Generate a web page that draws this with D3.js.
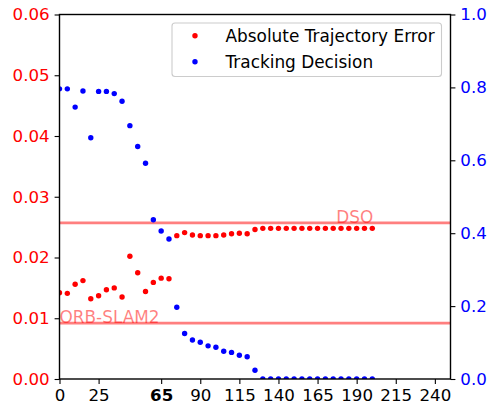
<!DOCTYPE html>
<html>
<head>
<meta charset="utf-8">
<script src="https://cdn.jsdelivr.net/npm/d3@7"></script>
<style>
  html, body { margin: 0; padding: 0; background: #fff; }
  svg { display: block; font-family: "DejaVu Sans", sans-serif; }
</style>
</head>
<body>
<svg id="chart" width="489" height="411"></svg>
<script>
// Frame indices sampled along the sequence
const frames = [0, 5, 10, 15, 20, 25, 30, 35, 40, 45, 50, 55, 60, 65, 70, 75, 80, 85, 90, 95,
  100, 105, 110, 115, 120, 125, 130, 135, 140, 145, 150, 155, 160, 165, 170, 175, 180, 185, 190, 195, 200];

// Absolute trajectory error (left axis)
const ateValues = [0.0142, 0.0141, 0.0156, 0.0162, 0.0132, 0.0137, 0.0147, 0.0150, 0.0135, 0.0202,
  0.0175, 0.0144, 0.0159, 0.0166, 0.0165, 0.0236, 0.0241, 0.0237, 0.0236, 0.0236,
  0.0236, 0.0237, 0.0239, 0.0240, 0.0239, 0.0246, 0.0248, 0.0248, 0.0248, 0.0248,
  0.0248, 0.0248, 0.0248, 0.0248, 0.0248, 0.0248, 0.0248, 0.0248, 0.0248, 0.0248, 0.0248];

// Tracking decision (right axis)
const decisionValues = [0.796, 0.796, 0.746, 0.790, 0.662, 0.789, 0.789, 0.783, 0.762, 0.695,
  0.638, 0.592, 0.437, 0.406, 0.384, 0.197, 0.125, 0.107, 0.101, 0.091,
  0.087, 0.076, 0.073, 0.065, 0.061, 0.024, 0, 0, 0, 0,
  0, 0, 0, 0, 0, 0, 0, 0, 0, 0, 0];

// Reference baselines (left axis units)
const baselineNames = ["DSO", "ORB-SLAM2"];
const baselineValues = [0.0257, 0.0092];
const baselineLabelX = [177, 0];

// Tick labels
const xTicks = [0, 25, 65, 90, 115, 140, 165, 190, 215, 240];
const boldXTick = 65;
const leftTicks = [0, 0.01, 0.02, 0.03, 0.04, 0.05, 0.06];
const rightTicks = [0, 0.2, 0.4, 0.6, 0.8, 1.0];
const legendLabels = ["Absolute Trajectory Error", "Tracking Decision"];
const seriesColors = ["#ff0000", "#0000ff"];

const svg = d3.select("#chart");
const plotLeft = 59.5, plotRight = 450.5, plotTop = 14.5, plotBottom = 379;
const fontSize = 16.67;
const textSize = 16.9;
const dotR = 2.7;

const x = d3.scaleLinear().domain([0, 250]).range([plotLeft, plotRight]);
const yL = d3.scaleLinear().domain([0, 0.06]).range([plotBottom, plotTop]);
const yR = d3.scaleLinear().domain([0, 1.0]).range([plotBottom, plotTop]);

svg.append("defs").append("clipPath").attr("id", "plot-clip")
  .append("rect").attr("x", plotLeft).attr("y", plotTop)
  .attr("width", plotRight - plotLeft).attr("height", plotBottom - plotTop);

const plot = svg.append("g").attr("clip-path", "url(#plot-clip)");

// Baseline reference lines with their labels
baselineValues.forEach((v, i) => {
  plot.append("line")
    .attr("x1", plotLeft).attr("x2", plotRight)
    .attr("y1", yL(v)).attr("y2", yL(v))
    .attr("stroke", "#ff0000").attr("stroke-opacity", 0.5).attr("stroke-width", 2.6);
  svg.append("text")
    .attr("x", x(baselineLabelX[i]))
    .attr("y", yL(v))
    .attr("fill", "#ff0000").attr("fill-opacity", 0.5)
    .attr("font-size", textSize)
    .text(baselineNames[i]);
});

// ATE points
plot.append("g").selectAll("circle").data(frames).join("circle")
  .attr("cx", (d) => x(d))
  .attr("cy", (d, i) => yL(ateValues[i]))
  .attr("r", dotR).attr("fill", seriesColors[0]);

// Tracking decision points
plot.append("g").selectAll("circle").data(frames).join("circle")
  .attr("cx", (d) => x(d))
  .attr("cy", (d, i) => yR(decisionValues[i]))
  .attr("r", dotR).attr("fill", seriesColors[1]);

// Axes
const tickLen = 4.9, tickPad = 4.9;

const xAxis = d3.axisBottom(x).tickValues(xTicks).tickSize(tickLen).tickPadding(tickPad).tickFormat(d3.format("d"));
const gx = svg.append("g").attr("transform", `translate(0,${plotBottom})`).call(xAxis);
gx.selectAll("text")
  .attr("font-size", fontSize).attr("fill", "#000")
  .attr("font-family", "DejaVu Sans, sans-serif")
  .attr("font-weight", (d) => d === boldXTick ? "bold" : "normal");

const yAxisL = d3.axisLeft(yL).tickValues(leftTicks).tickSize(tickLen).tickPadding(tickPad).tickFormat(d3.format(".2f"));
const gyL = svg.append("g").attr("transform", `translate(${plotLeft},0)`).call(yAxisL);
gyL.selectAll("text").attr("font-size", fontSize).attr("fill", seriesColors[0]).attr("font-family", "DejaVu Sans, sans-serif");

const yAxisR = d3.axisRight(yR).tickValues(rightTicks).tickSize(tickLen).tickPadding(tickPad).tickFormat(d3.format(".1f"));
const gyR = svg.append("g").attr("transform", `translate(${plotRight},0)`).call(yAxisR);
gyR.selectAll("text").attr("font-size", fontSize).attr("fill", seriesColors[1]).attr("font-family", "DejaVu Sans, sans-serif");

[gx, gyL, gyR].forEach((g) => {
  g.select(".domain").remove();
  g.selectAll(".tick line").attr("stroke", "#000").attr("stroke-width", 1.1);
});

// Frame of the plot area
svg.append("rect")
  .attr("x", plotLeft).attr("y", plotTop)
  .attr("width", plotRight - plotLeft).attr("height", plotBottom - plotTop)
  .attr("fill", "none").attr("stroke", "#000").attr("stroke-width", 1.4);

// Legend
const legend = svg.append("g");
legend.append("rect")
  .attr("x", 172).attr("y", 23).attr("width", 269.5).attr("height", 53.5)
  .attr("rx", 3).attr("ry", 3)
  .attr("fill", "#fff").attr("fill-opacity", 0.8)
  .attr("stroke", "#cccccc").attr("stroke-width", 1.1);
legendLabels.forEach((label, i) => {
  const cy = 35.7 + i * 26;
  legend.append("circle").attr("cx", 195).attr("cy", cy).attr("r", dotR).attr("fill", seriesColors[i]);
  legend.append("text")
    .attr("x", 225.5).attr("y", cy + 6.4)
    .attr("font-size", textSize).attr("fill", "#000")
    .text(label);
});
</script>
</body>
</html>
